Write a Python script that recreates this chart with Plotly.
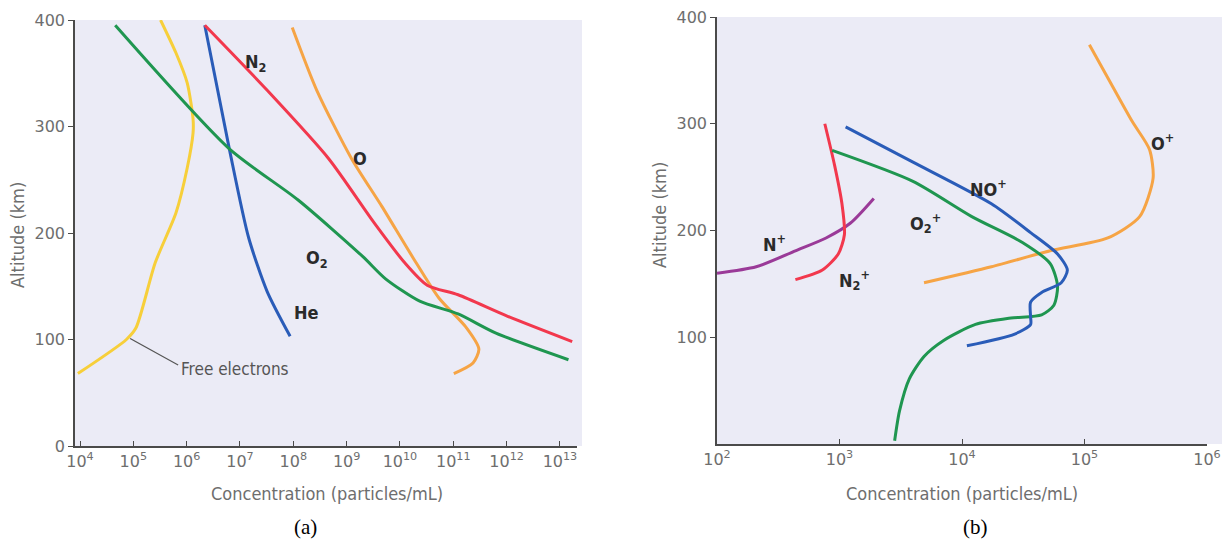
import numpy as np
import plotly.graph_objects as go

# ---------------- Panel (a): neutral species + free electrons ----------------
# log10 concentration (particles/mL) and altitude (km)
fe_log = [3.96, 4.87, 5.05, 5.41, 5.80, 6.01, 6.12, 6.12, 6.01, 5.80, 5.51]
fe_alt = [68, 100, 111, 172, 219, 261, 294, 307, 341, 369, 400]

o2_log = [4.66, 6.80, 8.09, 9.30, 9.73, 10.37, 11.09, 11.80, 13.16]
o2_alt = [395, 279, 231, 178, 157, 136, 124, 106, 81]

n2_log = [6.34, 7.51, 8.66, 9.51, 10.09, 10.51, 11.09, 12.01, 13.23]
n2_alt = [395, 334, 270, 210, 172, 151, 142, 122, 98]

he_log = [6.34, 6.80, 7.16, 7.51, 7.94]
he_alt = [395, 279, 196, 145, 103]

o_log = [7.98, 8.44, 9.09, 9.66, 10.23, 10.73, 11.23, 11.48, 11.37, 11.01]
o_alt = [393, 334, 270, 225, 178, 139, 112, 91, 78, 68]

a_xticks = [4, 5, 6, 7, 8, 9, 10, 11, 12, 13]
a_yticks = [0, 100, 200, 300, 400]

# ---------------- Panel (b): ions ----------------
np_log = [2.00, 2.32, 2.64, 2.89, 3.09, 3.28]
np_alt = [160, 166, 181, 193, 207, 230]

n2p_log = [2.64, 2.86, 2.99, 3.04, 3.02, 2.96, 2.88]
n2p_alt = [154, 163, 178, 196, 225, 261, 300]

nop_log = [3.05, 3.60, 4.24, 4.56, 4.78, 4.86, 4.81, 4.65, 4.56, 4.56, 4.56, 4.43, 4.04]
nop_alt = [297, 264, 225, 198, 178, 163, 151, 142, 133, 119, 112, 103, 92]

o2p_log = [2.94, 3.60, 4.08, 4.49, 4.72, 4.78, 4.75, 4.65, 4.40, 4.11, 3.85, 3.69, 3.57, 3.49, 3.45]
o2p_alt = [275, 246, 213, 189, 169, 148, 130, 121, 118, 112, 97, 82, 61, 31, 3]

op_log = [3.69, 4.24, 4.72, 5.19, 5.45, 5.56, 5.53, 5.39, 5.20, 5.04]
op_alt = [151, 166, 181, 193, 213, 249, 276, 302, 341, 374]

b_xticks = [2, 3, 4, 5, 6]
b_yticks = [100, 200, 300, 400]

# pointer for "Free electrons"
ptr_log = [4.94, 5.84]
ptr_alt = [101, 76]

W, H = 1222, 547
def px(x): return x / W
def py(y): return 1 - y / H

C_YEL = "#f7cf3a"
C_GRN = "#1f9650"
C_RED = "#f2384d"
C_BLU = "#2a5cb8"
C_ORG = "#f6a445"
C_PUR = "#9a3a98"
BG = "#ebebf6"
AX = "#4a4a4a"
TXT = "#6e6e6e"
LAB_FONT = "DejaVu Sans Condensed, Liberation Sans Narrow, DejaVu Sans"

fig = go.Figure()

def add(xl, yl, color, xa, ya, width=3):
    fig.add_trace(go.Scatter(
        x=np.power(10.0, xl), y=yl, mode="lines",
        line=dict(color=color, width=width, shape="spline", smoothing=0.7),
        xaxis=xa, yaxis=ya, showlegend=False, hoverinfo="skip"))

add(fe_log, fe_alt, C_YEL, "x", "y")
add(he_log, he_alt, C_BLU, "x", "y")
add(o_log, o_alt, C_ORG, "x", "y")
add(n2_log, n2_alt, C_RED, "x", "y")
add(o2_log, o2_alt, C_GRN, "x", "y")
fig.add_trace(go.Scatter(x=np.power(10.0, ptr_log), y=ptr_alt, mode="lines",
                         line=dict(color="#555555", width=1.2), xaxis="x", yaxis="y",
                         showlegend=False, hoverinfo="skip"))

add(np_log, np_alt, C_PUR, "x2", "y2")
add(n2p_log, n2p_alt, C_RED, "x2", "y2")
add(op_log, op_alt, C_ORG, "x2", "y2")
add(o2p_log, o2p_alt, C_GRN, "x2", "y2")
add(nop_log, nop_alt, C_BLU, "x2", "y2")

tickfont = dict(family="DejaVu Sans", size=16, color=TXT)
common = dict(showline=True, linecolor=AX, linewidth=1.5, showgrid=False,
              zeroline=False, tickfont=tickfont, automargin=False, tickcolor=AX)

fig.update_layout(
    width=W, height=H,
    margin=dict(l=0, r=0, t=0, b=0, autoexpand=False),
    paper_bgcolor="white",
    plot_bgcolor="rgba(0,0,0,0)",
    showlegend=False,
    xaxis=dict(type="log", domain=[px(75), px(577)], range=[3.906, 13.32],
               tickvals=[10.0 ** t for t in a_xticks],
               ticktext=[f"10<sup>{t}</sup>" for t in a_xticks],
               ticks="inside", ticklen=5, tickwidth=1, anchor="y", **common),
    yaxis=dict(domain=[py(446), py(20)], range=[0, 400], tickvals=a_yticks,
               ticks="outside", ticklen=5, anchor="x", **common),
    xaxis2=dict(type="log", domain=[px(717), px(1207)], range=[2.0, 6.0],
                tickvals=[10.0 ** t for t in b_xticks],
                ticktext=[f"10<sup>{t}</sup>" for t in b_xticks],
                ticks="inside", ticklen=5, tickwidth=1, anchor="y2", **common),
    yaxis2=dict(domain=[py(444), py(17)], range=[0, 400], tickvals=b_yticks,
                ticks="outside", ticklen=5, anchor="x2", **common),
)

# panel backgrounds
fig.add_shape(type="rect", xref="paper", yref="paper", x0=px(75), x1=px(582),
              y0=py(446), y1=py(20), fillcolor=BG, line=dict(width=0), layer="below")
fig.add_shape(type="rect", xref="paper", yref="paper", x0=px(717), x1=1.0,
              y0=py(444), y1=py(17), fillcolor=BG, line=dict(width=0), layer="below")

ann = []
def lab(text, xl, y, xr, yr, size=18, color="#2a2a2a", bold=True, xanchor="center"):
    ann.append(dict(text=f"<b>{text}</b>" if bold else text, x=xl, y=y, xref=xr, yref=yr,
                    showarrow=False, xanchor=xanchor, yanchor="middle",
                    font=dict(family=LAB_FONT, size=size, color=color)))

lab("N<sub>2</sub>", 7.3, 360, "x", "y")
lab("O", 9.25, 270, "x", "y")
lab("O<sub>2</sub>", 8.45, 176, "x", "y")
lab("He", 8.25, 125, "x", "y")
lab("Free electrons", 5.85, 72, "x", "y", size=17, color="#555555", bold=False, xanchor="left")

lab("O<sup>+</sup>", 5.64, 283, "x2", "y2")
lab("NO<sup>+</sup>", 4.22, 240, "x2", "y2")
lab("O<sub>2</sub><sup>+</sup>", 3.70, 207, "x2", "y2")
lab("N<sup>+</sup>", 2.47, 188, "x2", "y2")
lab("N<sub>2</sub><sup>+</sup>", 3.12, 154, "x2", "y2")

titlefont = dict(family=LAB_FONT, size=18, color=TXT)
for xc, yc in [(px(327), py(493)), (px(962), py(493))]:
    ann.append(dict(text="Concentration (particles/mL)", x=xc, y=yc, xref="paper", yref="paper",
                    showarrow=False, font=titlefont, xanchor="center", yanchor="middle"))
for xc, yc in [(px(18), py(235)), (px(659), py(215))]:
    ann.append(dict(text="Altitude (km)", x=xc, y=yc, xref="paper", yref="paper",
                    showarrow=False, font=titlefont, textangle=-90,
                    xanchor="center", yanchor="middle"))
for t, xc in [("(a)", 305), ("(b)", 975)]:
    ann.append(dict(text=t, x=px(xc), y=py(527), xref="paper", yref="paper", showarrow=False,
                    font=dict(family="Liberation Serif, Times New Roman, serif", size=21,
                              color="black"),
                    xanchor="center", yanchor="middle"))

fig.update_layout(annotations=ann)
fig.write_html(
    "out.html",
    config={"displayModeBar": False},
    post_script="document.body.style.margin='0';document.body.style.padding='0';"
                "document.body.style.overflow='hidden';",
)
